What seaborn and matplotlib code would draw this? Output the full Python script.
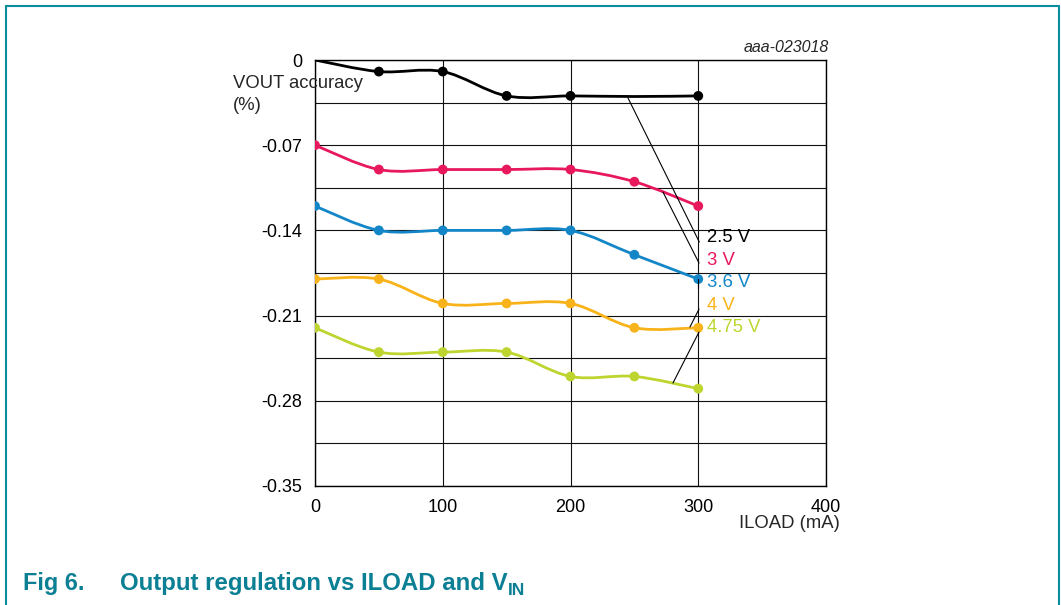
import numpy as np
import pandas as pd
import matplotlib
matplotlib.use("Agg")
import matplotlib.pyplot as plt
import seaborn as sns
from matplotlib.path import Path
from matplotlib.patches import PathPatch
from matplotlib.lines import Line2D

# ---------------- data ----------------
iload = [0, 50, 100, 150, 200, 250, 300]
acc_2v5 = [0.0, -0.0095, -0.0095, -0.0295, -0.0295, -0.0300, -0.0295]
acc_3v = [-0.07, -0.09, -0.09, -0.09, -0.09, -0.10, -0.12]
acc_3v6 = [-0.12, -0.14, -0.14, -0.14, -0.14, -0.16, -0.18]
acc_4v = [-0.18, -0.18, -0.20, -0.20, -0.20, -0.22, -0.22]
acc_4v75 = [-0.22, -0.24, -0.24, -0.24, -0.26, -0.26, -0.27]
marker_2v5 = [False, True, True, True, True, False, True]
series_names = ["2.5 V", "3 V", "3.6 V", "4 V", "4.75 V"]
series_values = [acc_2v5, acc_3v, acc_3v6, acc_4v, acc_4v75]
colors = ["#000000", "#e8185c", "#1386c8", "#f9b31a", "#bed52f"]
y_ticks = [0, -0.07, -0.14, -0.21, -0.28, -0.35]
y_tick_labels = ["0", "-0.07", "-0.14", "-0.21", "-0.28", "-0.35"]
x_ticks = [0, 100, 200, 300, 400]
x_tick_labels = ["0", "100", "200", "300", "400"]
# label positions (data coords) and leader lines (start on curve -> end at label)
label_pos = [(306.5, -0.1462), (306.5, -0.1651), (306.5, -0.1826), (306.5, -0.2013), (306.5, -0.2196)]
leaders = [((245.0, -0.0312), (300.8, -0.1495)),
           ((272.4, -0.1085), (300.6, -0.1668)),
           ((300.0, -0.1800), (300.0, -0.1870)),
           ((293.5, -0.2194), (300.6, -0.2046)),
           ((280.2, -0.2654), (300.6, -0.2235))]

rows = []
for name, vals in zip(series_names, series_values):
    for i, (x, y) in enumerate(zip(iload, vals)):
        show = marker_2v5[i] if name == "2.5 V" else True
        rows.append({"ILOAD": x, "acc": y, "VIN": name, "marker": show})
df = pd.DataFrame(rows)

# ---------------- style ----------------
sns.set_style("white")
plt.rcParams["font.family"] = ["Liberation Sans", "DejaVu Sans"]

W, H = 1061, 605
fig = plt.figure(figsize=(W / 100, H / 100), dpi=100)
ax = fig.add_axes([315 / W, 1 - 486 / H, (826 - 315) / W, (486 - 60) / H])

ax.set_xlim(0, 400)
ax.set_ylim(-0.35, 0)
ax.set_xticks(x_ticks)
ax.set_xticklabels(x_tick_labels)
ax.set_yticks(y_ticks)
ax.set_yticklabels(y_tick_labels)
ax.set_yticks(np.arange(-0.35, 0.0001, 0.035), minor=True)
ax.grid(True, which="both", color="#111111", lw=0.8, zorder=0)
ax.tick_params(which="both", length=0, labelsize=13, colors="black")
ax.tick_params(axis="y", pad=9)
ax.tick_params(axis="x", pad=9)
for s in ax.spines.values():
    s.set_visible(True)
    s.set_color("black")
    s.set_linewidth(1.0)
ax.set_axisbelow(True)


def smooth_path(xs, ys):
    pts = np.column_stack([xs, ys]).astype(float)
    ext = np.vstack([pts[0], pts, pts[-1]])
    verts = [tuple(pts[0])]
    codes = [Path.MOVETO]
    for i in range(len(pts) - 1):
        p0, p1, p2, p3 = ext[i], ext[i + 1], ext[i + 2], ext[i + 3]
        c1 = p1 + (p2 - p0) / 6.0
        c2 = p2 - (p3 - p1) / 6.0
        verts += [tuple(c1), tuple(c2), tuple(p2)]
        codes += [Path.CURVE4] * 3
    return Path(verts, codes)


for name, col in zip(series_names, colors):
    sub = df[df.VIN == name]
    patch = PathPatch(smooth_path(sub.ILOAD.values, sub.acc.values), facecolor="none",
                      edgecolor=col, lw=2.0, zorder=3, capstyle="round", joinstyle="round")
    ax.add_patch(patch)

sns.scatterplot(data=df[df.marker], x="ILOAD", y="acc", hue="VIN",
                palette=dict(zip(series_names, colors)), s=50, edgecolor="none",
                legend=False, ax=ax, zorder=4, clip_on=True)
ax.set_xlabel("")
ax.set_ylabel("")

for (p0, p1) in leaders:
    ax.plot([p0[0], p1[0]], [p0[1], p1[1]], color="black", lw=0.8, zorder=5, clip_on=False)

for name, col, (lx, ly) in zip(series_names, colors, label_pos):
    ax.text(lx, ly, name, color=col, fontsize=13.3, ha="left", va="center", zorder=6, clip_on=False)

# axis titles
fig.text(233 / W, 1 - 83 / H, "VOUT accuracy", fontsize=13.3, ha="left", va="center")
fig.text(233 / W, 1 - 106 / H, "(%)", fontsize=13.3, ha="left", va="center")
fig.text(840 / W, 1 - 523 / H, "ILOAD (mA)", fontsize=13.3, ha="right", va="center")
fig.text(829 / W, 1 - 47 / H, "aaa-023018", fontsize=11.5, style="italic", ha="right", va="center")

# frame
teal = "#0a8d9d"
fig.add_artist(Line2D([6 / W, 6 / W], [0, 1 - 6 / H], color=teal, lw=1.5, transform=fig.transFigure))
fig.add_artist(Line2D([6 / W, 1059 / W], [1 - 6 / H, 1 - 6 / H], color=teal, lw=1.5, transform=fig.transFigure))
fig.add_artist(Line2D([1059 / W, 1059 / W], [0, 1 - 6 / H], color=teal, lw=1.5, transform=fig.transFigure))

# caption
cap_y = 1 - 590 / H
fig.text(23 / W, cap_y, "Fig 6.", fontsize=16.8, fontweight="bold", color="#0b7f93", va="baseline")
t = fig.text(120 / W, cap_y, "Output regulation vs ILOAD and V", fontsize=17.3, fontweight="bold",
             color="#0b7f93", va="baseline")
fig.canvas.draw()
bb = t.get_window_extent(fig.canvas.get_renderer())
fig.text(bb.x1 / W + 0.5 / W, cap_y - 5 / H, "IN", fontsize=12.5, fontweight="bold",
         color="#0b7f93", va="baseline")

fig.savefig("out.png", dpi=100)
